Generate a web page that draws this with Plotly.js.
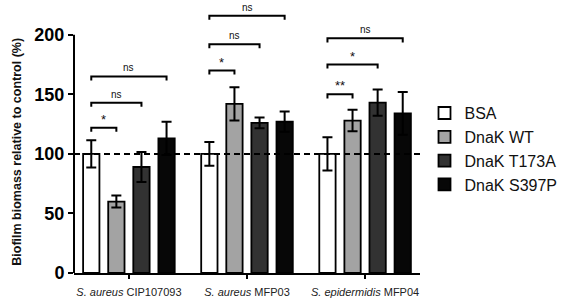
<!DOCTYPE html>
<html>
<head>
<meta charset="utf-8">
<script src="https://cdn.plot.ly/plotly-3.0.1.min.js"></script>
<style>html,body{margin:0;padding:0;background:#fff;}#chart{width:567px;height:306px;}</style>
</head>
<body>
<div id="chart"></div>
<script>
// Strains (x categories)
const strains = ['<i>S. aureus</i> CIP107093', '<i>S. aureus</i> MFP03', '<i>S. epidermidis</i> MFP04'];

// Treatments (legend)
const treatments = ['BSA', 'DnaK WT', 'DnaK T173A', 'DnaK S397P'];

// Biofilm biomass (% of control) per treatment, one value per strain
const bsa = [100, 100, 100];
const dnakWT = [60, 142, 128];
const dnakT173A = [89, 126, 143];
const dnakS397P = [113, 127, 134];

// Error (SEM) per treatment
const bsaErr = [11.5, 10, 14];
const dnakWTErr = [5, 14, 9];
const dnakT173AErr = [12.5, 4.5, 11];
const dnakS397PErr = [14, 8.5, 18];

// Significance comparisons: strain index, bar indices compared, bracket level, label
const sigStrain = [0, 0, 0, 1, 1, 1, 2, 2, 2];
const sigFrom = [0, 0, 0, 0, 0, 0, 0, 0, 0];
const sigTo = [1, 2, 3, 1, 2, 3, 1, 2, 3];
const sigLevel = [122, 143, 165, 170, 192, 216, 150, 175, 197];
const sigLabel = ['*', 'ns', 'ns', '*', 'ns', 'ns', '**', '*', 'ns'];

const controlLevel = 100;
const yTitle = 'Biofilm biomass relative to control (%)';

const values = [bsa, dnakWT, dnakT173A, dnakS397P];
const errors = [bsaErr, dnakWTErr, dnakT173AErr, dnakS397PErr];
const fills = ['#ffffff', '#a3a3a3', '#323232', '#070707'];

const FONT = '"Liberation Sans", Arial, Helvetica, sans-serif';
const BARGAP = 0.15, BARGROUPGAP = 0.35;
const nBars = treatments.length;
const slot = (1 - BARGAP) / nBars;
const barCenter = (g, i) => g + (i - (nBars - 1) / 2) * slot;

const xs = strains.map((_, i) => i);

const traces = treatments.map((name, k) => ({
  type: 'bar',
  name: name,
  x: xs,
  y: values[k],
  marker: { color: fills[k], line: { color: '#000', width: 1.8 } },
  error_y: { type: 'data', array: errors[k], visible: true, color: '#000', thickness: 2, width: 5 },
  hoverinfo: 'skip'
}));

const shapes = [
  // y axis line up to 200
  { type: 'line', xref: 'paper', yref: 'y', x0: 0, x1: 0, y0: 0, y1: 200, line: { color: '#000', width: 2 } },
  // control reference line
  { type: 'line', xref: 'paper', yref: 'y', x0: 0, x1: 1, y0: controlLevel, y1: controlLevel,
    line: { color: '#000', width: 2, dash: '6px,4px' }, layer: 'above' }
];
const annotations = [
  // y axis title, centred on the 0-200 axis span
  { xref: 'paper', yref: 'y', x: -0.167, y: 102, xanchor: 'center', yanchor: 'middle',
    textangle: -90, showarrow: false, text: '<b>' + yTitle + '</b>',
    font: { family: FONT, size: 12.5, color: '#111' } }
];
const drop = 3.4;
sigLevel.forEach((lv, j) => {
  const x0 = barCenter(sigStrain[j], sigFrom[j]);
  const x1 = barCenter(sigStrain[j], sigTo[j]);
  shapes.push({
    type: 'path', xref: 'x', yref: 'y',
    path: `M ${x0},${lv - drop} L ${x0},${lv} L ${x1},${lv} L ${x1},${lv - drop}`,
    line: { color: '#000', width: 2 }
  });
  const star = sigLabel[j] !== 'ns';
  annotations.push({
    xref: 'x', yref: 'y', x: (x0 + x1) / 2, y: lv, yanchor: 'bottom',
    yshift: star ? -1 : 1, showarrow: false, text: sigLabel[j],
    font: { family: FONT, size: star ? 13 : 10, color: '#111' }
  });
});

const layout = {
  width: 567, height: 306,
  margin: { l: 74, r: 134, t: 5, b: 33 },
  paper_bgcolor: '#fff', plot_bgcolor: '#fff',
  barmode: 'group', bargap: BARGAP, bargroupgap: BARGROUPGAP,
  showlegend: true,
  legend: {
    x: 1.013, xanchor: 'left', y: 0.66, yanchor: 'top',
    font: { family: FONT, size: 16, color: '#111' },
    traceorder: 'normal', itemclick: false
  },
  xaxis: {
    range: [-0.465, 2.465], tickvals: xs, ticktext: strains,
    showline: true, linecolor: '#000', linewidth: 2,
    ticks: 'outside', ticklen: 4, tickwidth: 2, tickcolor: '#000',
    ticklabelstandoff: 4,
    showgrid: false, zeroline: false, fixedrange: true,
    tickfont: { family: FONT, size: 11, color: '#222' }
  },
  yaxis: {
    range: [0, 225], tickvals: [0, 50, 100, 150, 200],
    showline: false, ticks: 'outside', ticklen: 5, tickwidth: 2, tickcolor: '#000',
    showgrid: false, zeroline: false, fixedrange: true,
    tickfont: { family: FONT, size: 18, color: '#000', weight: 'bold' }
  },
  shapes: shapes,
  annotations: annotations,
  font: { family: FONT }
};

Plotly.newPlot('chart', traces, layout, { displayModeBar: false, staticPlot: true });
</script>
</body>
</html>
